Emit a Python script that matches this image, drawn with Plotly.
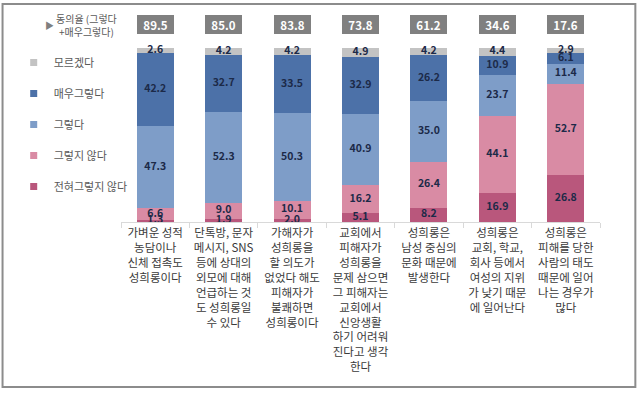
import plotly.graph_objects as go

categories = [
    "가벼운 성적<br>농담이나<br>신체 접촉도<br>성희롱이다",
    "단톡방, 문자<br>메시지, SNS<br>등에 상대의<br>외모에 대해<br>언급하는 것<br>도 성희롱일<br>수 있다",
    "가해자가<br>성희롱을<br>할 의도가<br>없었다 해도<br>피해자가<br>불쾌하면<br>성희롱이다",
    "교회에서<br>피해자가<br>성희롱을<br>문제 삼으면<br>그 피해자는<br>교회에서<br>신앙생활<br>하기 어려워<br>진다고 생각<br>한다",
    "성희롱은<br>남성 중심의<br>문화 때문에<br>발생한다",
    "성희롱은<br>교회, 학교,<br>회사 등에서<br>여성의 지위<br>가 낮기 때문<br>에 일어난다",
    "성희롱은<br>피해를 당한<br>사람의 태도<br>때문에 일어<br>나는 경우가<br>많다",
]

strongly_disagree = [1.3, 1.9, 2.0, 5.1, 8.2, 16.9, 26.8]
disagree = [6.6, 9.0, 10.1, 16.2, 26.4, 44.1, 52.7]
agree = [47.3, 52.3, 50.3, 40.9, 35.0, 23.7, 11.4]
strongly_agree = [42.2, 32.7, 33.5, 32.9, 26.2, 10.9, 6.1]
dont_know = [2.6, 4.2, 4.2, 4.9, 4.2, 4.4, 2.9]
agreement_rate = [89.5, 85.0, 83.8, 73.8, 61.2, 34.6, 17.6]

series_names = ["전혀그렇지 않다", "그렇지 않다", "그렇다", "매우그렇다", "모르겠다"]
series_values = [strongly_disagree, disagree, agree, strongly_agree, dont_know]
series_colors = ["#b9577c", "#d98ba4", "#7e9dc8", "#4c71a8", "#c3c3c3"]

FONT = "Noto Sans CJK KR"

fig = go.Figure()
for name, vals, col in zip(series_names, series_values, series_colors):
    fig.add_trace(go.Bar(
        x=categories, y=vals, name=name,
        marker=dict(color=col, line=dict(width=0)),
        showlegend=False, hoverinfo="skip",
    ))

# value labels drawn on top of all bars (segment midpoints)
base = [0.0] * len(categories)
for name, vals in zip(series_names, series_values):
    mids = [b + v / 2 for b, v in zip(base, vals)]
    fig.add_trace(go.Scatter(
        x=categories, y=mids, mode="text",
        text=[f"{v:.1f}" for v in vals], textposition="middle center",
        textfont=dict(family=FONT, size=10.5, color="#1c2a48", weight="bold"),
        cliponaxis=False, showlegend=False, hoverinfo="skip",
    ))
    base = [b + v for b, v in zip(base, vals)]

# legend-only entries (small square swatches), top to bottom
for name, col in zip(series_names[::-1], series_colors[::-1]):
    fig.add_trace(go.Scatter(
        x=[None], y=[None], mode="markers", name=name, legendgroup=name,
        marker=dict(symbol="square", size=7, color=col),
    ))

# agreement-rate boxes
for cat, v in zip(categories, agreement_rate):
    fig.add_annotation(
        x=cat, xref="x", y=1.135, yref="paper", yanchor="middle",
        text=f"<b>{v:.1f}</b>", showarrow=False,
        font=dict(family=FONT, size=11.5, color="white"),
        bgcolor="#808080", bordercolor="#808080", borderwidth=0,
        width=35, height=17, borderpad=1,
    )

# header of the agreement row
fig.add_annotation(
    x=-0.073, xref="paper", y=1.135, yref="paper",
    text="동의율 (그렇다<br>+매우그렇다)", showarrow=False, align="center",
    font=dict(family=FONT, size=10, color="#595959"),
    xanchor="center", yanchor="middle",
)
fig.add_annotation(
    x=-0.150, xref="paper", y=1.132, yref="paper",
    text="▶", showarrow=False,
    font=dict(family=FONT, size=9, color="#7f7f7f"),
    xanchor="center", yanchor="middle",
)

# outer frame
fig.add_shape(
    type="rect", xref="paper", yref="paper",
    x0=-0.2473, x1=1.0738, y0=-0.9483, y1=1.2529,
    line=dict(color="#8c8c8c", width=2), fillcolor="rgba(0,0,0,0)", layer="below",
)

fig.update_layout(
    width=643, height=395,
    margin=dict(l=121, r=43, t=48, b=173, autoexpand=False),
    paper_bgcolor="white", plot_bgcolor="white",
    barmode="stack", bargap=0.46,
    font=dict(family=FONT, color="#404040"),
    showlegend=True,
    legend=dict(
        x=-0.224, xanchor="left", y=1.0, yanchor="top",
        font=dict(family=FONT, size=11, color="#595959"),
        tracegroupgap=12, itemwidth=30, bgcolor="rgba(0,0,0,0)",
    ),
    xaxis=dict(
        type="category", tickson="boundaries", ticks="outside", ticklen=5,
        tickcolor="#d9d9d9", showline=True, linecolor="#d9d9d9", linewidth=1,
        tickangle=0, automargin=False,
        tickfont=dict(family=FONT, size=11.5, color="#3a3a3a"),
        showgrid=False, fixedrange=True,
    ),
    yaxis=dict(range=[0, 100], visible=False, showgrid=False, fixedrange=True,
               automargin=False),
)

fig.write_html("out.html", config={"displayModeBar": False},
               post_script="document.body.style.margin='0';")
